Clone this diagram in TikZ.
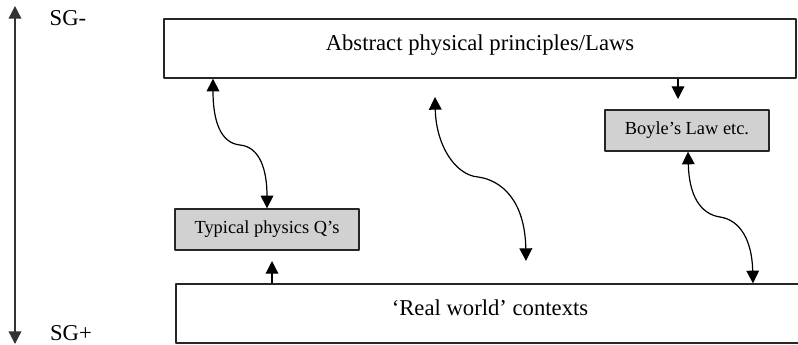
\documentclass[tikz,border=0pt]{standalone}
\usepackage{fontspec}
\setmainfont{Liberation Serif}
\usetikzlibrary{arrows.meta}
\begin{document}
\begin{tikzpicture}[x=0.75pt, y=-0.75pt, line join=round, >={Triangle[length=9.5pt,width=9.5pt]},
	bigbox/.style={draw=black!85, line width=1pt, fill=white, inner sep=0pt, text depth=9pt, font=\fontsize{17}{20}\selectfont},
	greybox/.style={draw=black!85, line width=1pt, fill=black!18, inner sep=0pt, font=\fontsize{13.8}{16}\selectfont},
	link/.style={line width=0.9pt, black}]
	\useasboundingbox (0,0) rectangle (798,345);
	% --- levels
	\node[bigbox, minimum width=474pt, minimum height=44.25pt] (abstract) at (480,48.5) {Abstract physical principles/Laws};
	\node[bigbox, minimum width=471pt, minimum height=44.25pt] (real) at (490,313.5) {‘Real world’ contexts};
	\node[greybox, minimum width=138pt, minimum height=30.75pt] (typical) at (267,229.5) {Typical physics Q’s};
	\node[greybox, minimum width=123pt, minimum height=30.75pt] (boyle) at (687,130.5) {Boyle’s Law etc.};
	% --- semantic gravity axis
	\coordinate (sgtop) at (15,6);
	\coordinate (sgbot) at (15,344);
	\draw[<->, line width=1pt, black!80] (sgtop) -- (sgbot);
	\node[font=\fontsize{17}{20}\selectfont] (sgminus) at (68,18) {SG-};
	\node[font=\fontsize{17}{20}\selectfont] (sgplus) at (71,333) {SG+};
	% --- short arrows
	\coordinate (b1) at (678,99);
	\coordinate (q1) at (272,261);
	\draw[->, link] (abstract.south -| b1) -- (b1);
	\draw[->, link] (real.north -| q1) -- (q1);
	% --- wavy arrows
	\coordinate (w1) at (213,0);
	\coordinate (w2) at (267,0);
	\draw[<->, link] (abstract.south -| w1) .. controls (213,120) and (220,143) .. (240,145)
		.. controls (260,147) and (267,170) .. (typical.north -| w2);
	\coordinate (w3) at (435,97);
	\coordinate (w4) at (526,261);
	\draw[<->, link] (w3) .. controls (436,145) and (455,175) .. (478,177)
		.. controls (501,180) and (525,200) .. (w4);
	\coordinate (w5) at (688,0);
	\coordinate (w6) at (753,0);
	\draw[<->, link] (boyle.south -| w5) .. controls (689,195) and (700,214) .. (720,217)
		.. controls (740,220) and (752,240) .. (real.north -| w6);
\end{tikzpicture}
\end{document}
